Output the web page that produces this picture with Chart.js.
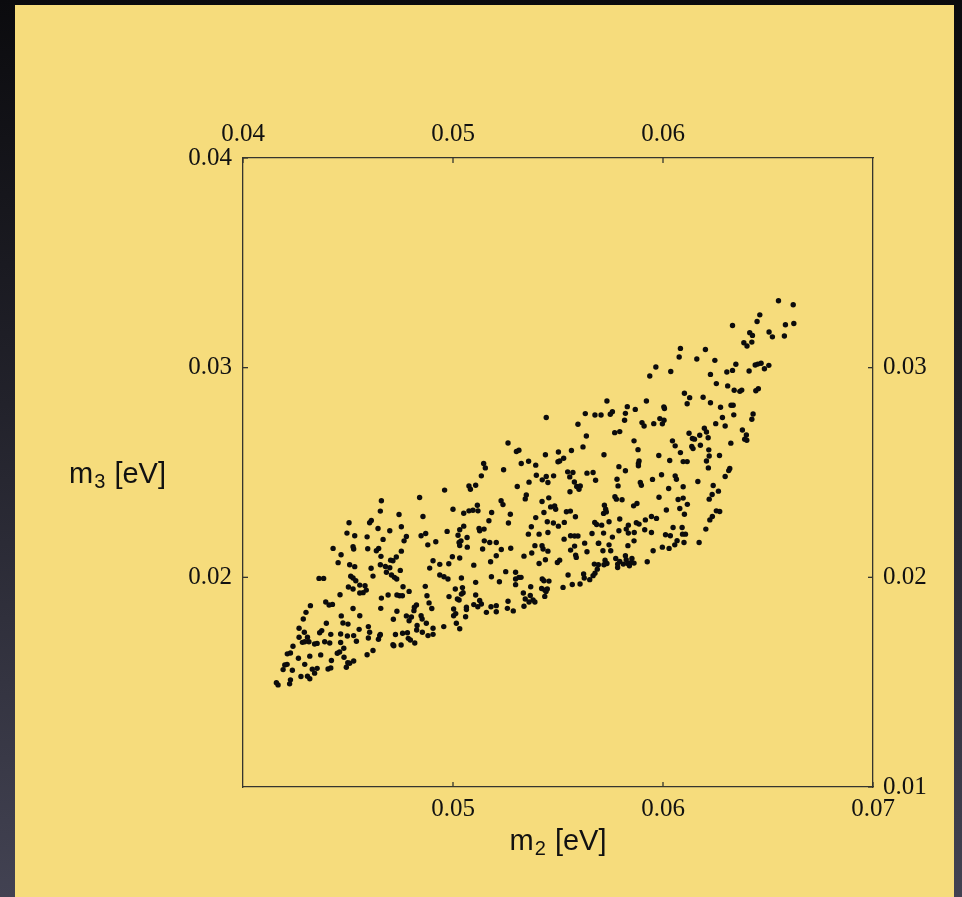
<!DOCTYPE html>
<html>
<head>
<meta charset="utf-8">
<script src="https://cdn.jsdelivr.net/npm/chart.js@4.4.0/dist/chart.umd.min.js"></script>
<style>
html, body { margin: 0; padding: 0; width: 962px; height: 897px; overflow: hidden; }
body { position: relative; background: linear-gradient(to bottom, #0b0b0e 0%, #22222b 45%, #424252 100%); }
#panel { position: absolute; left: 15px; top: 5px; width: 939px; height: 892px; background: #f6dc7c; }
#wrap { position: absolute; left: 0; top: 0; width: 962px; height: 897px; }
</style>
</head>
<body>
<div id="panel"></div>
<div id="wrap"><canvas id="massChart" width="962" height="897"></canvas></div>
<script>
// scan points, m2 and m3 in meV
var m2Mev = [
  49.60,50.76,51.08,50.83,48.41,46.59,50.00,51.16,50.51,50.76,
  50.95,51.19,46.54,47.43,48.57,45.05,46.11,46.03,47.54,46.43,
  46.99,50.32,51.24,50.51,44.95,45.32,45.91,46.67,47.78,47.67,
  48.48,48.70,49.72,50.24,50.67,49.18,50.29,50.38,50.32,50.68,
  44.29,45.24,45.27,45.94,46.46,46.35,47.54,48.80,44.67,46.57,
  47.03,47.14,47.30,49.97,50.32,44.53,45.08,45.32,46.10,46.54,
  46.78,46.99,47.49,46.83,49.05,49.37,49.80,48.89,50.99,45.13,
  45.24,46.19,47.07,47.21,47.32,49.37,49.57,49.76,50.40,51.08,
  43.62,43.84,45.37,45.56,45.81,45.02,45.24,45.87,45.72,45.56,
  47.62,47.91,48.68,50.11,50.45,50.48,44.62,46.91,47.33,47.46,
  47.59,46.59,48.76,49.81,50.21,50.40,51.08,50.29,50.99,43.21,
  43.94,44.10,44.26,48.86,48.26,48.16,50.64,50.64,51.18,43.00,
  45.24,46.56,47.33,48.14,48.99,50.03,50.03,50.13,50.60,42.87,
  44.68,45.56,47.16,47.78,48.02,48.48,47.91,48.53,44.76,45.00,
  43.97,50.16,49.56,42.67,42.92,43.75,43.65,45.97,45.53,48.73,
  48.29,48.27,49.05,50.32,42.67,43.07,43.14,43.41,44.18,44.65,
  44.97,45.27,46.03,46.54,47.26,47.60,47.83,48.54,48.81,49.05,
  42.38,42.83,42.94,43.53,43.89,44.13,44.65,45.40,46.45,46.51,
  45.97,47.87,47.97,48.18,47.14,47.18,47.53,42.26,42.11,43.18,
  43.70,44.60,44.49,44.80,45.91,46.19,42.64,42.10,41.99,42.94,
  44.21,44.81,44.99,45.27,45.08,41.91,42.35,43.30,43.53,43.41,
  44.05,44.18,44.92,42.76,43.07,43.18,41.67,41.59,42.26,42.22,
  57.33,59.21,58.30,58.68,57.59,57.49,58.21,56.30,56.76,57.05,
  58.17,59.00,59.10,54.44,55.95,57.70,57.94,56.35,58.62,58.81,
  52.62,53.02,53.14,54.40,55.02,55.08,55.27,55.64,56.19,57.19,
  53.25,53.60,53.94,55.00,51.46,51.54,51.35,52.41,53.06,53.62,
  53.97,54.25,54.44,54.79,54.52,55.46,55.71,55.56,56.38,56.67,
  56.79,57.90,58.21,58.86,58.83,58.83,53.49,53.44,55.78,55.89,
  56.06,56.00,55.57,57.81,57.86,58.92,58.97,52.29,52.38,52.73,
  52.64,54.24,54.56,54.33,54.65,54.84,54.89,55.40,55.59,55.83,
  57.21,57.27,57.17,57.30,57.71,57.78,58.05,58.60,58.76,51.84,
  51.71,53.94,54.49,54.78,55.02,55.30,53.73,53.59,54.52,56.75,
  56.84,57.08,57.43,57.94,58.73,59.16,51.48,51.27,51.49,51.75,
  52.06,51.41,52.30,52.75,54.10,55.29,55.60,55.79,55.95,56.27,
  56.62,56.94,57.17,57.43,57.59,57.90,58.35,58.86,58.63,59.13,
  58.62,58.35,58.25,53.38,53.75,53.90,54.24,54.52,54.29,54.40,
  54.10,55.08,54.97,55.79,55.60,55.84,55.87,56.38,56.92,57.14,
  57.51,57.75,57.94,58.21,58.33,58.52,58.49,58.62,58.25,58.11,
  52.06,51.79,52.51,51.83,52.21,52.98,52.98,53.14,53.24,53.70,
  54.25,54.33,54.57,55.48,55.68,56.05,56.22,56.25,56.51,56.67,
  56.76,56.87,56.73,56.92,57.19,57.24,57.33,57.84,57.84,58.32,
  58.40,59.25,53.35,53.44,53.62,53.81,53.68,53.90,54.22,54.37,
  54.49,54.43,54.37,55.24,52.98,51.27,51.35,51.81,52.06,52.06,
  51.59,52.62,52.59,52.87,53.38,
  65.50,66.20,64.61,64.48,65.83,66.23,63.31,65.05,65.21,65.78,
  64.13,64.26,64.23,63.85,64.00,60.83,60.77,62.02,61.61,62.47,
  59.66,60.37,62.26,63.47,63.31,63.04,64.10,64.39,64.51,64.67,
  64.83,65.04,62.54,63.08,63.39,63.66,63.75,64.42,64.54,61.02,
  61.27,61.15,61.91,62.26,62.74,63.24,63.34,63.37,62.83,62.96,
  62.51,64.29,64.23,60.04,60.07,59.85,60.05,59.97,59.56,61.97,
  62.07,62.15,61.75,61.24,61.40,61.50,61.37,61.43,61.78,60.45,
  60.58,60.83,59.80,60.32,60.96,61.15,62.07,62.20,62.18,62.16,
  62.69,63.23,63.78,63.97,63.89,63.99,59.50,59.93,60.58,60.64,
  60.27,60.96,61.66,62.39,62.34,62.20,62.64,62.96,63.18,63.13,
  59.81,60.16,60.72,60.96,60.80,61.16,61.02,62.54,62.70,62.35,
  62.23,62.04,59.45,59.69,60.48,60.91,61.07,60.93,60.12,60.35,
  59.45,60.67,61.00,60.56,61.72,59.97,60.29,59.53,59.37
];
var m3Mev = [
  24.16,24.36,24.39,24.20,23.81,23.65,23.25,23.44,23.06,23.17,
  23.20,23.17,23.16,23.00,22.90,22.60,22.71,22.60,22.41,22.33,
  22.22,22.27,22.33,22.44,22.11,21.98,21.93,21.81,21.95,21.74,
  21.98,22.09,22.19,22.01,21.90,21.70,21.66,21.74,21.52,21.44,
  21.38,21.46,21.35,21.36,21.38,21.27,21.25,21.55,21.08,21.00,
  20.82,20.79,20.97,20.98,20.92,20.70,20.60,20.51,20.43,20.60,
  20.52,20.46,20.33,20.24,20.79,20.62,20.65,20.44,20.58,20.05,
  19.97,20.06,20.11,20.00,19.92,20.11,20.03,19.92,19.97,19.76,
  19.95,19.95,19.84,19.63,19.60,19.54,19.44,19.39,19.27,19.25,
  19.55,19.33,19.57,19.44,19.51,19.27,19.17,19.16,19.16,19.12,
  19.12,19.01,19.12,19.08,18.97,19.20,19.16,18.92,18.70,18.65,
  18.82,18.68,18.71,18.78,18.68,18.57,18.57,18.46,18.60,18.33,
  18.51,18.52,18.38,18.41,18.51,18.49,18.17,18.27,18.12,18.01,
  18.16,18.17,18.00,18.16,18.11,18.17,17.93,18.01,17.82,17.77,
  17.81,17.81,17.65,17.57,17.38,17.46,17.36,17.65,17.52,17.81,
  17.70,17.49,17.57,17.55,17.14,17.14,16.93,16.82,17.28,17.30,
  17.20,17.22,17.38,17.27,17.27,17.33,17.36,17.38,17.22,17.28,
  16.71,16.90,16.93,16.85,16.93,16.87,16.89,16.95,17.05,17.22,
  17.11,17.09,17.01,16.87,16.79,16.74,16.77,16.39,16.35,16.24,
  16.30,16.44,16.38,16.62,16.31,16.51,16.14,15.85,15.82,15.85,
  16.03,16.19,15.93,16.01,15.90,15.60,15.57,15.62,15.66,15.43,
  15.63,15.68,15.71,15.27,15.28,15.16,14.87,14.97,15.11,14.92,
  28.41,28.41,28.14,28.01,27.90,27.78,27.82,27.81,27.74,27.74,
  27.49,27.38,27.22,27.62,27.30,26.90,26.95,26.74,26.51,26.09,
  26.41,26.00,26.06,25.85,25.98,25.55,25.68,26.05,26.22,25.85,
  25.43,25.54,25.35,25.51,25.43,25.22,24.84,25.13,24.33,24.54,
  24.87,24.65,24.81,24.84,24.52,25.03,25.00,24.79,24.97,25.00,
  24.63,25.28,25.08,25.55,25.32,25.43,23.93,23.74,24.55,24.33,
  24.36,24.20,24.08,24.68,24.36,24.52,24.39,23.65,23.47,23.01,
  22.59,23.62,23.79,23.09,23.36,23.41,23.25,23.13,23.16,22.89,
  23.44,23.25,23.05,23.12,23.84,23.73,23.70,23.41,23.52,23.09,
  22.70,22.85,22.65,22.59,22.44,22.62,22.41,22.06,22.14,22.62,
  22.52,22.49,22.65,22.78,22.60,22.74,22.30,22.22,21.74,21.66,
  21.66,21.35,21.33,21.39,22.06,21.82,21.98,21.97,21.97,21.63,
  22.09,21.63,22.11,21.55,21.92,22.22,22.49,22.54,22.14,22.27,
  21.74,22.11,22.30,21.01,21.16,21.51,21.51,21.25,21.35,20.84,
  20.66,20.82,20.71,21.49,21.30,21.06,20.95,21.22,21.62,21.27,
  21.27,20.90,20.76,21.03,21.51,20.90,20.71,20.68,20.84,20.63,
  21.03,20.74,20.27,20.03,19.79,20.24,19.92,20.00,20.00,19.55,
  19.92,19.84,19.82,20.11,19.66,19.68,20.16,19.97,19.89,20.08,
  20.20,20.39,20.63,20.60,20.60,20.82,20.66,20.63,20.47,20.66,
  20.55,20.74,19.25,18.97,18.82,18.92,19.13,18.82,19.47,19.39,
  19.44,19.32,19.09,19.52,19.65,18.90,18.73,18.60,18.65,18.36,
  18.33,18.86,18.52,18.40,18.62,
  33.19,33.00,32.52,32.20,32.05,32.11,32.01,31.70,31.47,31.51,
  31.67,31.54,31.22,31.19,31.03,30.92,30.51,30.87,30.41,30.35,
  30.03,29.82,29.68,30.16,29.87,29.79,29.84,30.13,30.17,30.21,
  29.95,30.11,29.24,29.13,28.92,28.87,28.93,28.90,29.00,28.78,
  28.57,28.28,28.59,28.33,28.11,28.21,28.21,27.75,27.62,27.22,
  27.33,27.79,27.54,28.13,28.05,27.57,27.49,27.32,27.33,27.11,
  26.93,26.66,26.78,26.87,26.62,26.59,26.24,26.14,26.30,26.51,
  26.27,25.95,25.81,25.57,25.52,25.52,25.55,25.79,26.08,25.22,
  25.81,26.40,27.03,26.79,26.59,26.54,24.67,24.89,24.84,24.68,
  24.24,24.32,24.57,24.38,23.95,23.73,24.11,24.81,25.19,25.09,
  23.82,23.21,23.71,23.78,23.28,23.48,23.01,23.17,23.14,22.90,
  22.74,22.30,22.90,22.81,22.38,22.38,22.06,22.06,22.03,21.98,
  22.14,21.75,21.66,21.55,21.66,21.44,21.38,21.27,29.60
];

// tick values shown on each side of the frame (eV)
var bottomTicks = [0.05, 0.06, 0.07];
var topTicks = [0.04, 0.05, 0.06];
var leftTicks = [0.02, 0.03, 0.04];
var rightTicks = [0.01, 0.02, 0.03];

var points = m2Mev.map(function (v, i) {
  return { x: v / 1000, y: m3Mev[i] / 1000 };
});

var lineColor = '#35352e';
var tickFont = { family: '"Liberation Serif", "Times New Roman", serif', size: 25 };
var titleFont = '"Liberation Sans", Arial, sans-serif';

function setTicks(values) {
  return function (scale) {
    scale.ticks = values.map(function (v) { return { value: v }; });
  };
}
function setSize(size) {
  return function (scale) {
    if (scale.isHorizontal()) scale.height = size; else scale.width = size;
  };
}
function axis(pos, min, max, values, size, pad) {
  return {
    type: 'linear', position: pos, min: min, max: max,
    afterBuildTicks: setTicks(values),
    afterFit: setSize(size),
    grid: { display: false, drawTicks: false },
    border: { display: true, color: lineColor, width: 1.3 },
    ticks: {
      font: tickFont, color: '#111', padding: pad, maxRotation: 0, autoSkip: false,
      callback: function (v) { return v.toFixed(2); }
    }
  };
}

// m with a subscript index, then " [eV]"
function massLabel(ctx, sub, x, y, align) {
  var big = '29px ' + titleFont, small = '20px ' + titleFont;
  ctx.font = big;
  var wm = ctx.measureText('m').width, wu = ctx.measureText(' [eV]').width;
  ctx.font = small;
  var ws = ctx.measureText(sub).width + 2;
  var total = wm + ws + wu;
  var left = align === 'center' ? x - total / 2 : x - total;
  ctx.fillStyle = '#111';
  ctx.textAlign = 'left';
  ctx.textBaseline = 'alphabetic';
  ctx.font = big; ctx.fillText('m', left, y);
  ctx.font = small; ctx.fillText(sub, left + wm + 1, y + 5);
  ctx.font = big; ctx.fillText(' [eV]', left + wm + ws, y);
}

var frameExtras = {
  id: 'frameExtras',
  afterDraw: function (chart) {
    var ctx = chart.ctx, a = chart.chartArea, len = 5;
    ctx.save();
    ctx.strokeStyle = lineColor;
    ctx.lineWidth = 1.3;
    ['x', 'x2', 'y', 'y2'].forEach(function (id) {
      var s = chart.scales[id];
      s.ticks.forEach(function (t) {
        var p = s.getPixelForValue(t.value);
        ctx.beginPath();
        if (id === 'x') { ctx.moveTo(p, a.bottom); ctx.lineTo(p, a.bottom - len); }
        if (id === 'x2') { ctx.moveTo(p, a.top); ctx.lineTo(p, a.top + len); }
        if (id === 'y') { ctx.moveTo(a.left, p); ctx.lineTo(a.left + len, p); }
        if (id === 'y2') { ctx.moveTo(a.right, p); ctx.lineTo(a.right - len, p); }
        ctx.stroke();
      });
    });
    massLabel(ctx, '2', (a.left + a.right) / 2, a.bottom + 63, 'center');
    massLabel(ctx, '3', a.left - 77, (a.top + a.bottom) / 2 + 10, 'right');
    ctx.restore();
  }
};

var ctx = document.getElementById('massChart').getContext('2d');
var massChart = new Chart(ctx, {
  type: 'scatter',
  data: {
    datasets: [{
      label: 'm3 vs m2',
      data: points,
      xAxisID: 'x',
      yAxisID: 'y',
      pointRadius: 2.7,
      pointHoverRadius: 2.7,
      pointBackgroundColor: '#0c0c0c',
      pointBorderWidth: 0
    }]
  },
  options: {
    responsive: false,
    animation: false,
    events: [],
    layout: { padding: 0 },
    plugins: { legend: { display: false }, tooltip: { enabled: false } },
    scales: {
      x: axis('bottom', 0.04, 0.07, bottomTicks, 110, 7),
      x2: axis('top', 0.04, 0.07, topTicks, 158, 9),
      y: axis('left', 0.01, 0.04, leftTicks, 243, 11),
      y2: axis('right', 0.01, 0.04, rightTicks, 89, 10)
    }
  },
  plugins: [frameExtras]
});
</script>
</body>
</html>
